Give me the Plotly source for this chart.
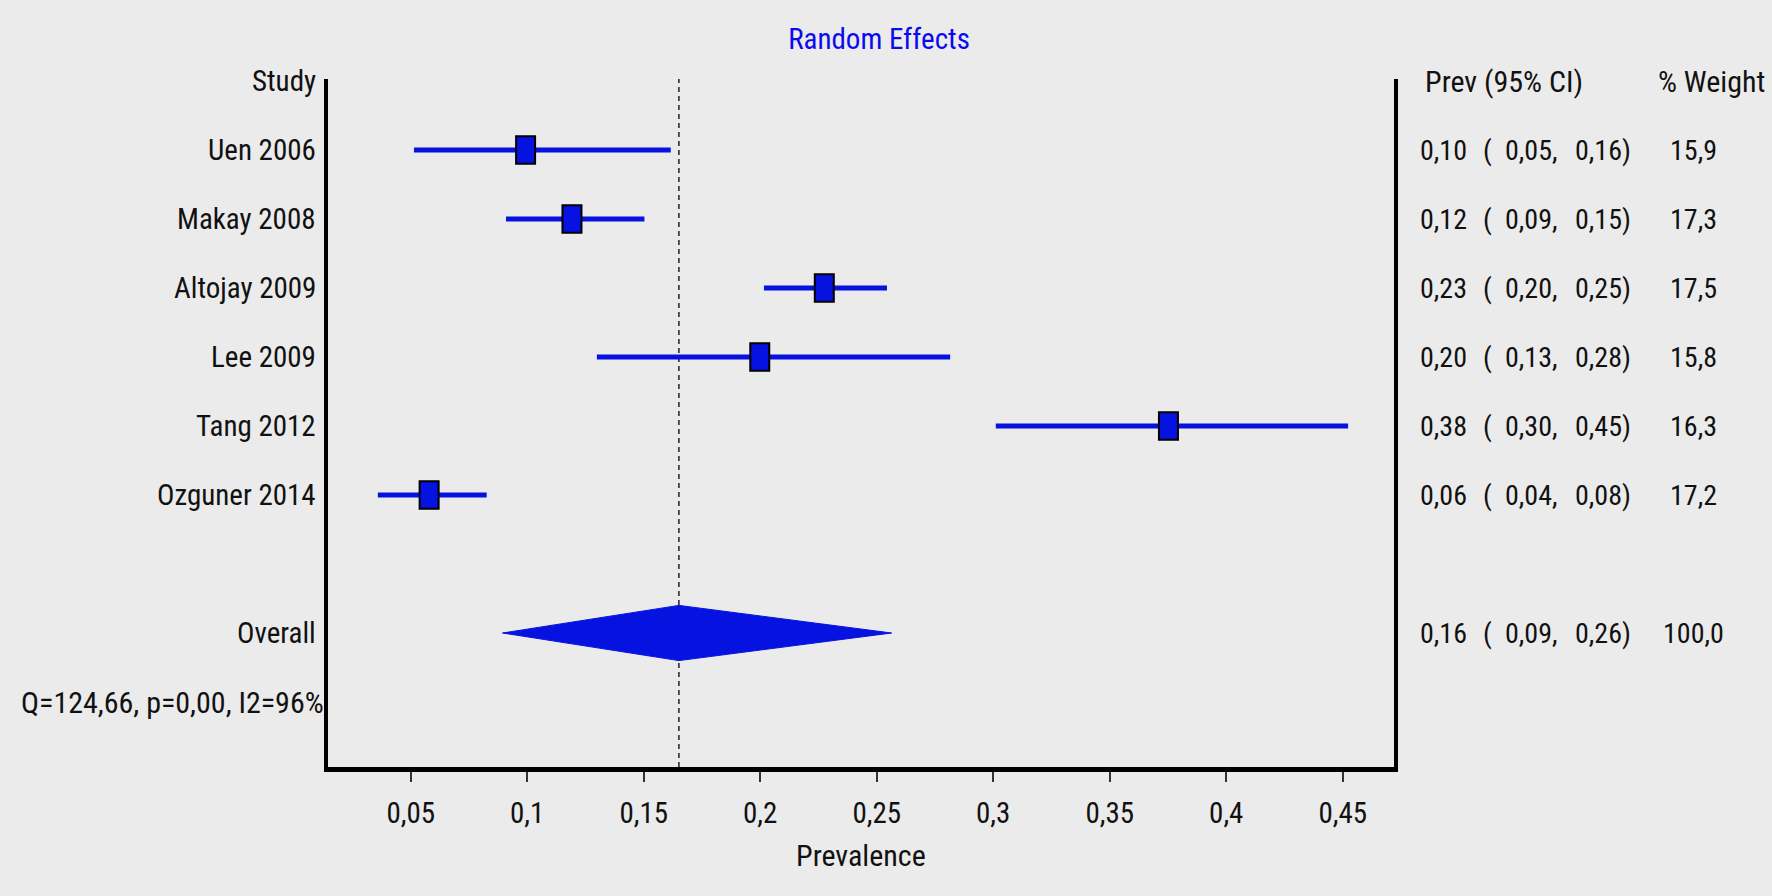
import plotly.graph_objects as go

# ---------------- data ----------------
studies = ["Uen 2006", "Makay 2008", "Altojay 2009", "Lee 2009", "Tang 2012", "Ozguner 2014"]
rows = [1, 2, 3, 4, 5, 6]
prev = [0.0993, 0.1192, 0.2275, 0.1998, 0.3752, 0.0579]
ci_low = [0.0514, 0.0909, 0.2016, 0.1299, 0.3011, 0.0359]
ci_high = [0.1616, 0.1503, 0.2544, 0.2815, 0.4523, 0.0826]
prev_txt = ["0,10", "0,12", "0,23", "0,20", "0,38", "0,06"]
low_txt = ["0,05", "0,09", "0,20", "0,13", "0,30", "0,04"]
high_txt = ["0,16", "0,15", "0,25", "0,28", "0,45", "0,08"]
weight_txt = ["15,9", "17,3", "17,5", "15,8", "16,3", "17,2"]

overall_row = 8
overall_prev = 0.1651
overall_low = 0.0894
overall_high = 0.2564
overall_txt = ["0,16", "0,09", "0,26", "100,0"]
het_row = 9
het_txt = "Q=124,66, p=0,00, I2=96%"

tick_vals = [0.05, 0.10, 0.15, 0.20, 0.25, 0.30, 0.35, 0.40, 0.45]
tick_text = ["0,05", "0,1", "0,15", "0,2", "0,25", "0,3", "0,35", "0,4", "0,45"]

# ---------------- style ----------------
W, H = 1772, 896
L, R, T, B = 328, 378, 79, 129
PW = W - L - R
FONT = "Roboto Condensed, Liberation Sans Narrow, Arial Narrow, Liberation Sans, sans-serif"
BLUE = "#0512e0"
BG = "#ebebeb"
TXT = "#111111"

def px2paper(px):
    return (px - L) / PW

x_range = [0.0145, 0.472]
unit_px = PW / (x_range[1] - x_range[0])
sq_half_w = 9.5 / unit_px
sq_half_h = 0.2
dia_half_h = 0.4

fig = go.Figure()

# CI lines
cx, cy = [], []
for lo, hi, r in zip(ci_low, ci_high, rows):
    cx += [lo, hi, None]
    cy += [r, r, None]
fig.add_trace(go.Scatter(x=cx, y=cy, mode="lines",
                         line=dict(color=BLUE, width=5), hoverinfo="skip",
                         showlegend=False))

# overall diamond
fig.add_trace(go.Scatter(
    x=[overall_low, overall_prev, overall_high, overall_prev, overall_low],
    y=[overall_row, overall_row - dia_half_h, overall_row,
       overall_row + dia_half_h, overall_row],
    mode="lines", fill="toself", fillcolor=BLUE,
    line=dict(color=BLUE, width=1), hoverinfo="skip", showlegend=False))

shapes = []
shapes.append(dict(type="line", xref="x", yref="paper", x0=overall_prev, x1=overall_prev,
                   y0=0, y1=1, layer="below",
                   line=dict(color="#000000", width=1.3, dash="5px,4px")))
for e, r in zip(prev, rows):
    shapes.append(dict(type="rect", xref="x", yref="y", layer="above",
                       x0=e - sq_half_w, x1=e + sq_half_w,
                       y0=r - sq_half_h, y1=r + sq_half_h,
                       fillcolor=BLUE, line=dict(color="#000000", width=2)))

ann = []
def txt(x_px, y, s, anchor="left", size=28, color=TXT, yref="y"):
    ann.append(dict(x=px2paper(x_px), xref="paper", y=y, yref=yref, text=s,
                    showarrow=False, xanchor=anchor, yanchor="middle",
                    font=dict(family=FONT, size=size, color=color)))

txt(318, 0, "Study", "right", 29)
for s, r in zip(studies, rows):
    txt(318, r, s, "right", 29)
txt(318, overall_row, "Overall", "right", 29)
txt(326, het_row, het_txt, "right", 30)

txt(1423, 0, "Prev (95% CI)", "left", 30)
txt(1711, 0, "% Weight", "center", 30)
for p, lo, hi, w, r in zip(prev_txt, low_txt, high_txt, weight_txt, rows):
    txt(1418, r, p, "left")
    txt(1481, r, "(", "left")
    txt(1503, r, lo + ",", "left")
    txt(1573, r, hi + ")", "left")
    txt(1693, r, w, "center")
txt(1418, overall_row, overall_txt[0], "left")
txt(1481, overall_row, "(", "left")
txt(1503, overall_row, overall_txt[1] + ",", "left")
txt(1573, overall_row, overall_txt[2] + ")", "left")
txt(1693, overall_row, overall_txt[3], "center")

ann.append(dict(x=0.5, xref="paper", y=(H - B - 855) / (H - T - B), yref="paper",
                text="Prevalence", showarrow=False, xanchor="center", yanchor="middle",
                font=dict(family=FONT, size=30, color=TXT)))

fig.update_layout(
    width=W, height=H,
    margin=dict(l=L, r=R, t=T, b=B, pad=0),
    paper_bgcolor=BG, plot_bgcolor=BG,
    title=dict(text="Random Effects", x=879 / W, xanchor="center",
               y=1 - 39 / H, yanchor="middle",
               font=dict(family=FONT, size=29, color="#0a0af0")),
    xaxis=dict(range=x_range, tickvals=tick_vals, ticktext=tick_text,
               ticks="outside", ticklen=10, tickwidth=1.5, tickcolor="#333333",
               showline=True, linewidth=5, linecolor="#000000",
               showgrid=False, zeroline=False, ticklabelstandoff=6,
               tickfont=dict(family=FONT, size=29, color=TXT)),
    yaxis=dict(range=[9.942, -0.029], showticklabels=False, ticks="",
               showline=True, mirror=True, linewidth=4, linecolor="#000000",
               showgrid=False, zeroline=False),
    shapes=shapes, annotations=ann, showlegend=False,
)

fig.write_html("out.html", config={"displayModeBar": False},
               post_script="document.body.style.margin='0';document.body.style.background='%s';" % BG)
